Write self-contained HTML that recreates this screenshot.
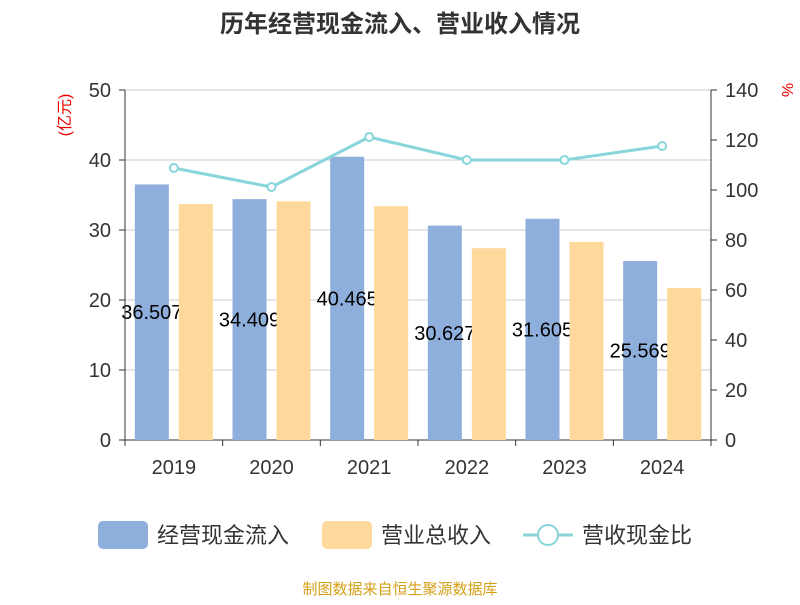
<!DOCTYPE html>
<html><head><meta charset="utf-8"><style>
body{margin:0;background:#fff;}
svg text{font-family:"Liberation Sans","Noto Sans CJK SC",sans-serif;}
</style></head><body>
<svg id="chart" width="800" height="600">
<text x="400" y="32" text-anchor="middle" font-size="24" font-weight="bold" fill="#333">历年经营现金流入、营业收入情况</text>
<text x="0" y="0" transform="translate(70,115) rotate(-90)" text-anchor="middle" font-size="16" fill="#e00">(亿元)</text>
<text x="0" y="0" transform="translate(782,90) rotate(90)" text-anchor="middle" font-size="16" fill="#e00">%</text>
<g id="grid"></g><g id="bars"></g><g id="line"></g><g id="axes"></g>
<g>
<rect x="98" y="521" width="50" height="28" rx="5" fill="#8eaedb"/>
<text x="157" y="543" font-size="22" fill="#333">经营现金流入</text>
<rect x="322" y="521" width="50" height="28" rx="5" fill="#fed99b"/>
<text x="381" y="543" font-size="22" fill="#333">营业总收入</text>
<line x1="523" y1="535" x2="573" y2="535" stroke="#88d5da" stroke-width="3"/>
<circle cx="548" cy="535" r="10" fill="#fff" stroke="#88d5da" stroke-width="2"/>
<text x="582" y="543" font-size="22" fill="#333">营收现金比</text>
</g>
<text x="400" y="594" text-anchor="middle" font-size="15" fill="#d4a017">制图数据来自恒生聚源数据库</text>
</svg>
<script>
const categories=["2019","2020","2021","2022","2023","2024"];
const cashInflow=[36.507,34.409,40.465,30.627,31.605,25.569];
const revenue=[33.7,34.1,33.4,27.4,28.3,21.7];
const ratio=[108.8,101.2,121.2,112,112,117.6];
const leftTicks=[0,10,20,30,40,50];
const rightTicks=[0,20,40,60,80,100,120,140];
const NS="http://www.w3.org/2000/svg";
const X0=125,X1=711,Y0=440,Y1=90;
const bw=(X1-X0)/categories.length;
const yL=v=>Y0-(v/50)*(Y0-Y1);
const yR=v=>Y0-(v/140)*(Y0-Y1);
const xc=i=>X0+bw*(i+0.5);
function mk(tag,attrs,parent){const e=document.createElementNS(NS,tag);for(const k in attrs)e.setAttribute(k,attrs[k]);document.getElementById(parent).appendChild(e);return e;}
leftTicks.forEach(t=>{
 const l=mk("line",{x1:X0,x2:X1,y1:yL(t),y2:yL(t),stroke:t===0?"#333":"#ccc","stroke-width":1},"grid");
 
 
 const tk=mk("line",{x1:X0-6,x2:X0,y1:yL(t),y2:yL(t),stroke:"#333"},"axes");
 
 
 const tx=mk("text",{x:X0-14,y:yL(t)+7,"text-anchor":"end","font-size":20,fill:"#333"},"axes");
 tx.textContent=t;
 
 
});
rightTicks.forEach(t=>{
 const tk=mk("line",{x1:X1,x2:X1+6,y1:yR(t),y2:yR(t),stroke:"#333"},"axes");
 
 
 const tx=mk("text",{x:X1+14,y:yR(t)+7,"font-size":20,fill:"#333"},"axes");
 tx.textContent=t;
 
 
});
let a=mk("line",{x1:X0,x2:X0,y1:Y1,y2:Y0,stroke:"#333"},"axes");


a=mk("line",{x1:X1,x2:X1,y1:Y1,y2:Y0,stroke:"#333"},"axes");


for(let i=0;i<=categories.length;i++){
 const tk=mk("line",{x1:X0+bw*i,x2:X0+bw*i,y1:Y0,y2:Y0+6,stroke:"#333"},"axes");
 
 
}
categories.forEach((c,i)=>{
 const tx=mk("text",{x:xc(i),y:474,"text-anchor":"middle","font-size":20,fill:"#333"},"axes");
 tx.textContent=c;
 
 
 const b=mk("rect",{x:xc(i)-39,y:yL(cashInflow[i]),width:34,height:Y0-yL(cashInflow[i]),fill:"#8eaedb"},"bars");
 
 
 const lb=mk("text",{x:xc(i)-22,y:(yL(cashInflow[i])+Y0)/2+7,"text-anchor":"middle","font-size":20,fill:"#000"},"bars");
 lb.textContent=cashInflow[i].toFixed(3);
 
 
});
categories.forEach((c,i)=>{
 const b=mk("rect",{x:xc(i)+5,y:yL(revenue[i]),width:34,height:Y0-yL(revenue[i]),fill:"#fed99b"},"bars");
 
 
});
const pl=mk("polyline",{points:ratio.map((v,i)=>xc(i)+","+yR(v)).join(" "),fill:"none",stroke:"#88d5da","stroke-width":3},"line");


ratio.forEach((v,i)=>{
 const p=mk("circle",{cx:xc(i),cy:yR(v),r:4,fill:"#fff",stroke:"#88d5da","stroke-width":2},"line");
 
 
});
</script>
</body></html>
